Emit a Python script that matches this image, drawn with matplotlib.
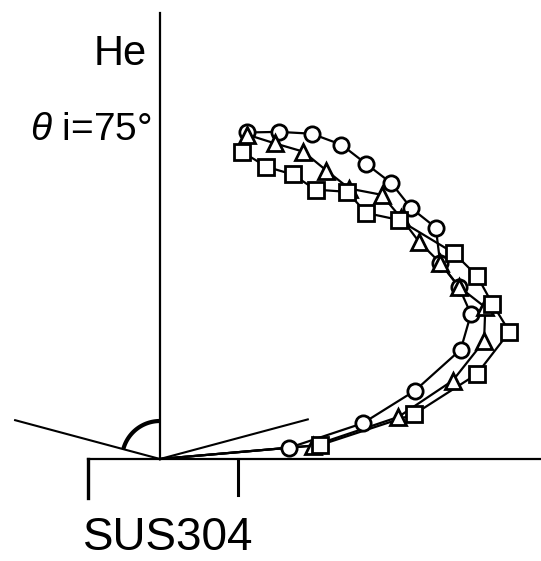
import numpy as np
import matplotlib
matplotlib.use("Agg")
import matplotlib.pyplot as plt

plt.rcParams["font.family"] = ["Liberation Sans", "DejaVu Sans"]
plt.rcParams["mathtext.fontset"] = "custom"
plt.rcParams["mathtext.rm"] = "Liberation Sans"
plt.rcParams["mathtext.it"] = "Liberation Sans:italic"

# He on SUS304, incidence angle 75 deg: scattered flux vs. polar angle
# (angle measured from the surface normal, intensity in arbitrary units)
angles_circle = [15, 20, 25, 30, 35, 40, 45, 50, 55, 60, 65, 70, 75, 80, 85]
flux_circle = [93.9, 96.7, 99.7, 100.8, 100.0, 100.0, 98.6, 100.0, 95.0,
               95.8, 95.3, 88.9, 73.3, 57.2, 36.1]

angles_triangle = [15, 20, 25, 30, 35, 40, 45, 50, 55, 60, 65, 70, 75, 80, 85]
flux_triangle = [93.3, 93.3, 94.2, 92.5, 91.7, 95.8, 94.7, 93.9, 95.0,
                 95.8, 99.7, 95.8, 84.2, 67.2, 42.8]

angles_square = [15, 20, 25, 30, 35, 40, 45, 55, 60, 65, 70, 75, 80, 85]
flux_square = [88.3, 86.4, 87.2, 86.4, 90.6, 89.2, 93.9, 99.7, 101.7,
               101.9, 103.3, 91.1, 71.7, 44.7]

incident_angle = 75
scale = 3.6  # drawing units per flux unit

fig = plt.figure(figsize=(5.41, 5.61), dpi=100)
ax = fig.add_axes([0, 0, 1, 1])
ax.set_xlim(-160, 381)
ax.set_ylim(-102, 459)
ax.set_aspect("equal")
ax.axis("off")

def to_xy(angles, flux):
    a = np.radians(np.asarray(angles, dtype=float))
    r = np.asarray(flux, dtype=float) * scale
    return r * np.sin(a), r * np.cos(a)

series = [
    (angles_circle, flux_circle, "o", 11),
    (angles_triangle, flux_triangle, "^", 12),
    (angles_square, flux_square, "s", 11),
]
for ang, fl, mk, ms in series:
    x, y = to_xy(ang, fl)
    # curve runs from the target point out through the measured points
    ax.plot(np.r_[x, 0.0], np.r_[y, 0.0], color="black", lw=1.6, zorder=2,
            solid_joinstyle="round")
    ax.plot(x, y, linestyle="none", marker=mk, ms=ms, mfc="white",
            mec="black", mew=2.0, zorder=3)

# surface normal
ax.plot([0, 0], [0, 446], color="black", lw=1.6, zorder=1)
# sample surface and holder
ax.plot([-72, 381], [0, 0], color="black", lw=1.6, zorder=1)
ax.plot([-72, -72], [0, -39], color="black", lw=2.4, zorder=1)
ax.plot([78, 78], [0, -36], color="black", lw=2.2, zorder=1)

# incident beam and specular direction
th = np.radians(incident_angle)
ax.plot([-150 * np.sin(th), 0], [150 * np.cos(th), 0], color="black", lw=1.5)
ax.plot([0, 153 * np.sin(th)], [0, 153 * np.cos(th)], color="black", lw=1.5)

# incidence angle arc
arc = np.linspace(0, th, 60)
ax.plot(-38 * np.sin(arc), 38 * np.cos(arc), color="black", lw=3.0,
        solid_capstyle="butt")

ax.text(-13, 394, "He", ha="right", va="baseline", fontsize=30)
ax.text(-8, 319, r"$\theta$ i=75°", ha="right", va="baseline", fontsize=28)
ax.text(8, -91, "SUS304", ha="center", va="baseline", fontsize=33)

fig.savefig("out.png", dpi=100)
